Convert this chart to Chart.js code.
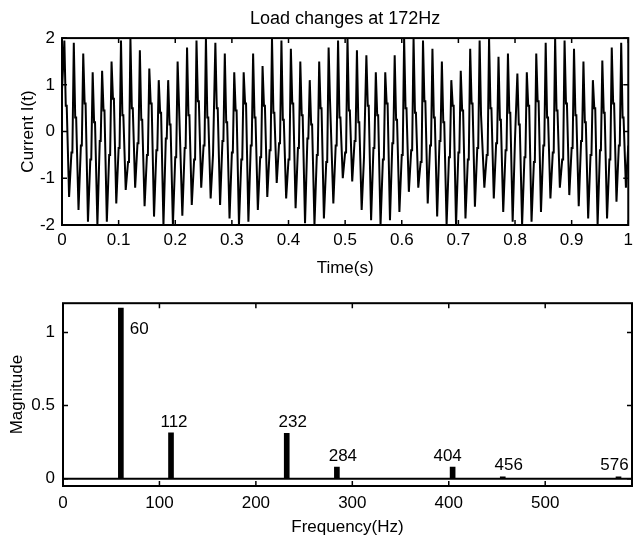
<!DOCTYPE html>
<html>
<head>
<meta charset="utf-8">
<script src="https://cdn.jsdelivr.net/npm/chart.js@4.4.0/dist/chart.umd.min.js"></script>
<style>
html, body { margin: 0; padding: 0; background: #fff; }
#wrap { position: relative; width: 638px; height: 536px; }
.box { position: absolute; left: 0; width: 638px; }
</style>
</head>
<body>
<div id="wrap">
  <div class="box" style="top:0;height:290px"><canvas id="timeChart"></canvas></div>
  <div class="box" style="top:285px;height:251px"><canvas id="freqChart"></canvas></div>
</div>
<script>
// current trace, one 60 Hz cycle at a time
// each cycle: rising shoulder (flat step), peak, falling shoulder (flat step), trough
const cycleHz = 60
const lowerStep = [0.9,-0.45,-0.3,-0.6,-0.2,-0.5,-0.35,-0.65,-0.25,-0.5,-0.4,-0.15,-0.55,-0.35,-0.6,-0.3,-0.5,-0.2,-0.45,-0.6,-0.3,-0.55,-0.4,-0.25,-0.6,-0.35,-0.15,-0.5,-0.65,-0.3,-0.45,-0.2,-0.55,-0.35,-0.6,-0.25,-0.5,-0.4,-0.65,-0.3,-0.2,-0.55,-0.45,-0.6,-0.35,-0.5,-0.25,-0.4,-0.15,-0.55,-0.65,-0.3,-0.45,-0.6,-0.35,-0.2,-0.5,-0.4,-0.6,-0.3]
const peakVals = [1.95,1.9,1.67,1.27,1.3,1.5,1.95,2.0,1.74,1.35,1.1,1.1,1.5,1.8,1.95,2.0,1.9,1.67,1.27,1.27,1.67,1.4,2.0,1.95,1.77,1.5,1.1,1.5,1.8,1.95,2.0,1.74,1.63,1.27,1.27,1.63,2.0,2.0,1.95,1.77,1.5,1.1,1.3,1.77,1.95,2.0,1.6,1.67,1.24,1.27,1.67,1.9,2.0,1.95,1.77,1.5,1.1,1.52,1.8,1.9]
const upperStep = [0.55,0.3,0.6,0.2,0.45,0.7,0.35,0.5,0.25,0.6,0.4,0.15,0.55,0.35,0.65,0.3,0.5,0.2,0.45,0.6,0.3,0.55,0.4,0.25,0.6,0.35,0.15,0.5,0.65,0.3,0.45,0.2,0.55,0.35,0.6,0.25,0.5,0.4,0.65,0.3,0.2,0.55,0.45,0.6,0.35,0.5,0.25,0.4,0.15,0.55,0.65,0.3,0.45,0.6,0.35,0.2,0.5,0.4,0.6,0.3]
const troughVals = [-1.4,-1.68,-1.93,-2.0,-1.93,-1.54,-1.25,-1.2,-1.6,-1.82,-2.0,-2.0,-1.8,-1.57,-1.2,-1.43,-1.57,-1.86,-2.0,-1.93,-1.68,-1.4,-1.1,-1.43,-1.64,-1.96,-2.0,-1.86,-1.54,-1.0,-1.07,-1.68,-1.9,-2.0,-1.9,-1.72,-1.29,-1.2,-1.54,-1.82,-2.0,-2.0,-1.86,-1.61,-1.2,-1.43,-1.72,-1.93,-2.0,-1.93,-1.72,-1.43,-1.2,-1.36,-1.6,-1.86,-2.0,-1.86,-1.5,-1.2]
const traceEnd = -0.3
const timeTicks = [0,0.1,0.2,0.3,0.4,0.5,0.6,0.7,0.8,0.9,1]
const currentTicks = [-2,-1,0,1,2]

// spectrum
const freqs = [60,112,232,284,404,456,576]
const mags = [1.167,0.313,0.31,0.08,0.08,0.013,0.013]
const freqTicks = [0,100,200,300,400,500]
const magTicks = [0,0.5,1]

const FONT = '"Liberation Sans", Arial, sans-serif'

// build the trace points (phase within a cycle -> value)
const trace = []
for (let k = 0; k < peakVals.length; k++) {
    trace.push({x: k / cycleHz, y: lowerStep[k]})
    trace.push({x: (k + 0.1) / cycleHz, y: lowerStep[k]})
    trace.push({x: (k + 0.25) / cycleHz, y: peakVals[k]})
    trace.push({x: (k + 0.4) / cycleHz, y: upperStep[k]})
    trace.push({x: (k + 0.5) / cycleHz, y: upperStep[k]})
    trace.push({x: (k + 0.75) / cycleHz, y: troughVals[k]})
}
trace.push({x: peakVals.length / cycleHz, y: traceEnd})

// matlab style box with inward ticks
const framePlugin = {
    id: 'frame',
    afterDraw(chart) {
        const {ctx, chartArea: a, scales} = chart
        ctx.save()
        ctx.strokeStyle = '#000'
        ctx.lineWidth = 1.5
        ctx.beginPath()
        scales.x.ticks.forEach(t => {
            const x = scales.x.getPixelForValue(t.value)
            ctx.moveTo(x, a.bottom); ctx.lineTo(x, a.bottom - 5)
            ctx.moveTo(x, a.top); ctx.lineTo(x, a.top + 5)
        })
        scales.y.ticks.forEach(t => {
            const y = scales.y.getPixelForValue(t.value)
            ctx.moveTo(a.left, y); ctx.lineTo(a.left + 5, y)
            ctx.moveTo(a.right, y); ctx.lineTo(a.right - 5, y)
        })
        ctx.stroke()
        ctx.lineWidth = 2
        ctx.strokeRect(a.left, a.top, a.right - a.left, a.bottom - a.top)
        ctx.restore()
    }
}

function setTicks(list) {
    return s => { s.ticks = list.map(v => ({value: v})) }
}

new Chart(document.getElementById('timeChart'), {
    type: 'line',
    data: {
        datasets: [{
            data: trace,
            borderColor: '#000',
            borderWidth: 2,
            pointRadius: 0,
            tension: 0
        }]
    },
    options: {
        responsive: true,
        maintainAspectRatio: false,
        animation: false,
        layout: {padding: {left: 0, right: 7, top: 0, bottom: 0}},
        plugins: {
            legend: {display: false},
            tooltip: {enabled: false},
            title: {
                display: true,
                text: 'Load changes at 172Hz',
                fullSize: false,
                color: '#000',
                font: {family: FONT, size: 18, weight: 'normal', lineHeight: 1.2},
                padding: {top: 8, bottom: 8.5}
            }
        },
        scales: {
            x: {
                type: 'linear', min: 0, max: 1,
                afterBuildTicks: setTicks(timeTicks),
                afterFit: s => { s.height = 65 },
                grid: {display: false, drawTicks: false},
                border: {display: false},
                ticks: {color: '#000', padding: 5, maxRotation: 0, font: {family: FONT, size: 17}, callback: v => String(v)},
                title: {display: true, text: 'Time(s)', color: '#000', font: {family: FONT, size: 17, lineHeight: 1}, padding: {top: 0, bottom: 13.5}}
            },
            y: {
                min: -2, max: 2,
                afterBuildTicks: setTicks(currentTicks),
                afterFit: s => { s.width = 62 },
                grid: {display: false, drawTicks: false},
                border: {display: false},
                ticks: {color: '#000', padding: 7, font: {family: FONT, size: 17}, callback: v => String(v)},
                title: {display: true, text: 'Current I(t)', color: '#000', font: {family: FONT, size: 17, lineHeight: 1}, padding: {top: 19.5, bottom: 0}}
            }
        }
    },
    plugins: [framePlugin]
})

// zero line plus frequency labels on each stem
const stemPlugin = {
    id: 'stems',
    beforeDatasetsDraw(chart) {
        const {ctx, chartArea: a, scales} = chart
        const y0 = scales.y.getPixelForValue(0)
        ctx.save()
        ctx.strokeStyle = '#000'
        ctx.lineWidth = 2
        ctx.beginPath()
        ctx.moveTo(a.left, y0); ctx.lineTo(a.right, y0)
        ctx.stroke()
        ctx.restore()
    },
    afterDatasetsDraw(chart) {
        const {ctx} = chart
        const bars = chart.getDatasetMeta(0).data
        // small sideways nudges the original labels had
        const nudge = [9, 3, 6, 6, -5, 6, -4]
        ctx.save()
        ctx.fillStyle = '#000'
        ctx.font = '17px ' + FONT
        ctx.textBaseline = 'middle'
        bars.forEach((b, i) => {
            if (mags[i] > 1) {
                ctx.textAlign = 'left'
                ctx.fillText(String(freqs[i]), b.x + nudge[i], b.y + 21)
            } else {
                ctx.textAlign = 'center'
                ctx.fillText(String(freqs[i]), b.x + nudge[i], b.y - 11)
            }
        })
        ctx.restore()
    }
}

new Chart(document.getElementById('freqChart'), {
    type: 'bar',
    data: {
        datasets: [{
            data: freqs.map((f, i) => ({x: f, y: mags[i]})),
            backgroundColor: '#000',
            barThickness: 5
        }]
    },
    options: {
        responsive: true,
        maintainAspectRatio: false,
        animation: false,
        layout: {padding: {left: 0, right: 6, top: 13, bottom: 0}},
        plugins: {
            legend: {display: false},
            tooltip: {enabled: false}
        },
        scales: {
            x: {
                type: 'linear', min: 0, max: 590, offset: false,
                afterBuildTicks: setTicks(freqTicks),
                afterFit: s => { s.height = 50 },
                grid: {display: false, drawTicks: false, offset: false},
                border: {display: false},
                ticks: {color: '#000', padding: 7, maxRotation: 0, font: {family: FONT, size: 17}, callback: v => String(v)},
                title: {display: true, text: 'Frequency(Hz)', color: '#000', font: {family: FONT, size: 17, lineHeight: 1}, padding: {top: 0, bottom: 0}}
            },
            y: {
                min: -0.05, max: 1.2,
                afterBuildTicks: setTicks(magTicks),
                afterFit: s => { s.width = 63 },
                grid: {display: false, drawTicks: false},
                border: {display: false},
                ticks: {color: '#000', padding: 8, font: {family: FONT, size: 17}, callback: v => String(v)},
                title: {display: true, text: 'Magnitude', color: '#000', font: {family: FONT, size: 17, lineHeight: 1}, padding: {top: 8.5, bottom: 0}}
            }
        }
    },
    plugins: [framePlugin, stemPlugin]
})
</script>
</body>
</html>
